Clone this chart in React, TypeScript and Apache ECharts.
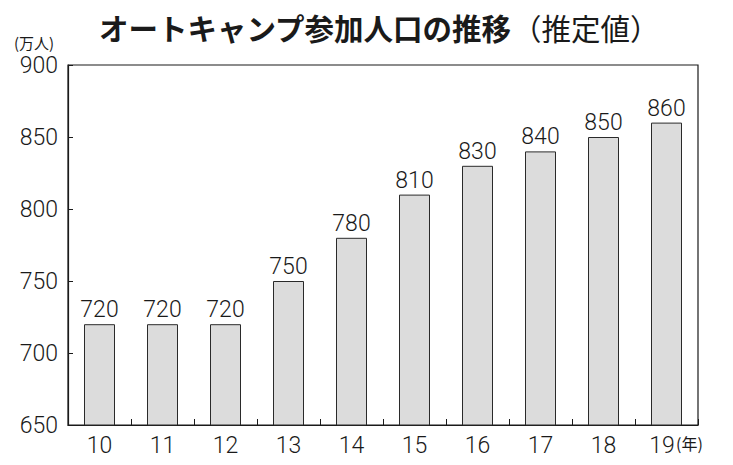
import React, { useEffect, useRef } from "react";
import * as echarts from "echarts";

const categories = ["10", "11", "12", "13", "14", "15", "16", "17", "18", "19"];
const values = [720, 720, 720, 750, 780, 810, 830, 840, 850, 860];
const yMin = 650;
const yMax = 900;
const yInterval = 50;
const titleMain = "オートキャンプ参加人口の推移";
const titleSub = "（推定値）";
const yUnit = "(万人)";
const xUnit = "(年)";

const numFont = "Roboto, 'Liberation Sans', sans-serif";
const jpFont = "'Noto Sans CJK JP', sans-serif";

export default function App() {
  const ref = useRef<HTMLDivElement>(null);
  useEffect(() => {
    if (!ref.current) return;
    const chart = echarts.init(ref.current, undefined, { renderer: "svg" });
    const lastIdx = categories.length - 1;
    chart.setOption({
      animation: false,
      backgroundColor: "#ffffff",
      title: {
        text: "{a|" + titleMain + "}{b|" + titleSub + "}",
        left: 94,
        top: 7,
        textStyle: {
          rich: {
            a: { fontFamily: jpFont, fontWeight: "bold", fontSize: 29.5, color: "#1a1a1a" },
            b: { fontFamily: jpFont, fontWeight: "normal", fontSize: 29.5, color: "#1a1a1a" },
          },
        },
      },
      grid: {
        left: 68,
        right: 35,
        top: 65,
        bottom: 40,
        show: true,
        borderColor: "#1a1a1a",
        borderWidth: 1.2,
        backgroundColor: "#ffffff",
      },
      xAxis: {
        type: "category",
        data: categories,
        boundaryGap: true,
        axisLine: { show: true, lineStyle: { color: "#1a1a1a", width: 1.2 } },
        axisTick: { show: true, inside: true, length: 6, interval: 0, alignWithLabel: false, lineStyle: { color: "#1a1a1a" } },
        axisLabel: {
          interval: 0,
          hideOverlap: false,
          color: "#1a1a1a",
          fontFamily: numFont,
          fontWeight: 300,
          fontSize: 23,
          margin: 9,
          formatter: (v: string, i: number) => (i === lastIdx ? "{last|" + v + "}" : v),
          rich: {
            last: {
              fontFamily: numFont,
              fontWeight: 300,
              fontSize: 23,
              color: "#1a1a1a",
              padding: [0, 9, 0, 0],
            },
          },
        },
      },
      yAxis: {
        type: "value",
        min: yMin,
        max: yMax,
        interval: yInterval,
        splitLine: { show: false },
        axisLine: { show: true, lineStyle: { color: "#1a1a1a", width: 1.2 } },
        axisTick: { show: true, inside: true, length: 5, lineStyle: { color: "#1a1a1a" } },
        axisLabel: { color: "#1a1a1a", fontFamily: numFont, fontWeight: 300, fontSize: 23, margin: 10 },
      },
      graphic: [
        {
          type: "text",
          left: 14,
          top: 35,
          style: { text: yUnit, fontFamily: jpFont, fontSize: 15, fill: "#1a1a1a" },
        },
        {
          type: "text",
          left: 676,
          top: 435,
          style: { text: xUnit, fontFamily: jpFont, fontSize: 16, fill: "#1a1a1a" },
        },
      ],
      series: [
        {
          type: "bar",
          data: values,
          barWidth: 31,
          itemStyle: { color: "#dcdcdc", borderColor: "#2a2a2a", borderWidth: 1 },
          label: {
            show: true,
            position: "top",
            distance: 3,
            color: "#1a1a1a",
            fontFamily: numFont,
            fontWeight: 300,
            fontSize: 23,
          },
        },
      ],
    });
    return () => chart.dispose();
  }, []);
  return (
    <div
      ref={ref}
      style={{ position: "fixed", left: 0, top: 0, width: 733, height: 465 }}
    />
  );
}
